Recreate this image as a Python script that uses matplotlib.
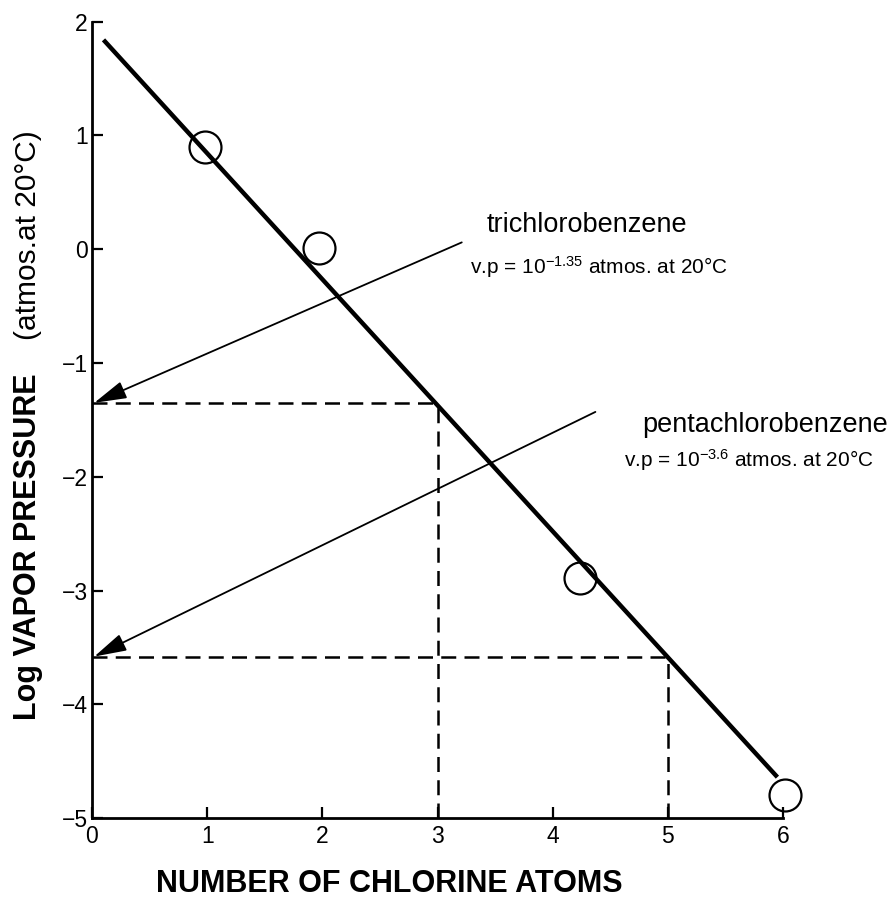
import numpy as np
import matplotlib.pyplot as plt

plt.rcParams['font.family'] = ['Liberation Sans', 'DejaVu Sans']
plt.rcParams['mathtext.fontset'] = 'custom'
plt.rcParams['mathtext.rm'] = 'Liberation Sans'
plt.rcParams['mathtext.it'] = 'Liberation Sans:italic'
plt.rcParams['mathtext.bf'] = 'Liberation Sans:bold'

# 数据点
pt_x = [0.98, 1.97, 4.24, 6.02]
pt_y = [0.90, 0.01, -2.89, -4.80]
# 拟合直线端点
fit_x = [0.10, 5.95]
fit_y = [1.84, -4.64]
# 读取值
tri_x, tri_vp = 3, -1.35
penta_x, penta_vp = 5, -3.58
x_ticks = [0, 1, 2, 3, 4, 5, 6]
y_ticks = [-5, -4, -3, -2, -1, 0, 1, 2]

fig = plt.figure(figsize=(8.93, 9.02), dpi=100)
ax = fig.add_axes([0.103, 0.093, 0.774, 0.883])

ax.plot(fit_x, fit_y, color='black', linewidth=3.2, solid_capstyle='butt')
ax.plot(pt_x, pt_y, linestyle='none', marker='o', markersize=23,
        markerfacecolor='none', markeredgecolor='black', markeredgewidth=1.6,
        clip_on=False, zorder=3)

# 虚线
dash = (0, (6, 3.3))
ax.plot([0, tri_x], [tri_vp, tri_vp], color='black', linestyle=dash, linewidth=1.8)
ax.plot([tri_x, tri_x], [-5, tri_vp], color='black', linestyle=dash, linewidth=1.8)
ax.plot([0, penta_x], [penta_vp, penta_vp], color='black', linestyle=dash, linewidth=1.8)
ax.plot([penta_x, penta_x], [-5, penta_vp], color='black', linestyle=dash, linewidth=1.8)

# 箭头
arrow_kw = dict(arrowstyle='-|>,head_length=0.8,head_width=0.22', color='black',
                lw=1.3, mutation_scale=25, shrinkA=0, shrinkB=0)
ax.annotate('', xy=(0.02, tri_vp), xytext=(3.21, 0.06), arrowprops=arrow_kw,
            annotation_clip=False)
ax.annotate('', xy=(0.02, penta_vp), xytext=(4.37, -1.43), arrowprops=arrow_kw,
            annotation_clip=False)

# 文字
ax.text(3.43, 0.215, 'trichlorobenzene', fontsize=19.5, ha='left', va='center')
ax.text(3.28, -0.155, r'v.p = 10$^{-1.35}$ atmos. at 20°C', fontsize=15,
        ha='left', va='center')
ax.text(4.78, -1.545, 'pentachlorobenzene', fontsize=19.5, ha='left', va='center',
        clip_on=False)
ax.text(4.62, -1.85, r'v.p = 10$^{-3.6}$ atmos. at 20°C', fontsize=15,
        ha='left', va='center', clip_on=False)

ax.set_xlim(0, 6)
ax.set_ylim(-5, 2)
ax.set_xticks(x_ticks)
ax.set_yticks(y_ticks)
ax.set_xticklabels([str(i) for i in x_ticks], fontsize=16.5)
ax.set_yticklabels([str(i).replace('-', '\u2212') for i in y_ticks], fontsize=16.5)
ax.tick_params(direction='in', length=8, width=1.6)
ax.tick_params(axis='y', pad=3)
ax.tick_params(axis='x', pad=5)
ax.spines['top'].set_visible(False)
ax.spines['right'].set_visible(False)
ax.spines['left'].set_linewidth(2)
ax.spines['bottom'].set_linewidth(2)

fig.text(0.436, 0.02, 'NUMBER OF CHLORINE ATOMS', fontsize=22, fontweight='bold',
         ha='center', va='center')
fig.text(0.031, 0.202, 'Log VAPOR PRESSURE', fontsize=22, fontweight='bold',
         rotation=90, ha='center', va='bottom')
fig.text(0.031, 0.623, '(atmos.at 20°C)', fontsize=21.5,
         rotation=90, ha='center', va='bottom')

fig.savefig('out.png', dpi=100)
